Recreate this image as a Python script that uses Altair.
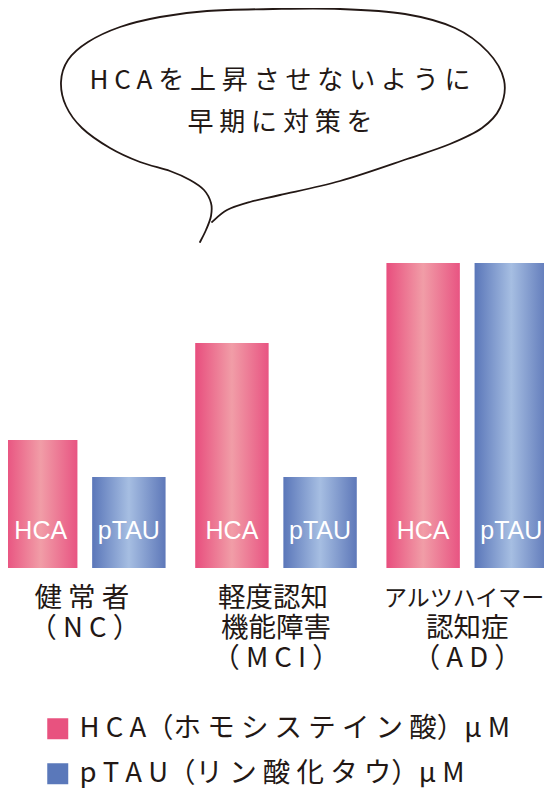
import altair as alt
import pandas as pd

# ---- data ----
groups = ["NC", "MCI", "AD"]
series = ["HCA", "pTAU"]
hca_values = [128, 225, 305]
ptau_values = [91, 91, 305]
label_line1 = ["健 常 者", "軽度認知", "アルツハイマー"]
label_line2 = ["（ N C ）", "機能障害", "認知症"]
label_line3 = ["", "（ M C I ）", "（ A D ）"]
label_size1 = [27.5, 27.5, 23]
label_size2 = [27.5, 27.5, 27.5]
label_size3 = [27.5, 27.5, 27.5]
legend_labels = ["H C A（ホ モ シ ス テ イ ン 酸）μ M", "p T A U（リ ン 酸 化 タ ウ）μ M"]
legend_colors = ["#E8527F", "#5A78BA"]
bubble_lines = ["H C A を 上 昇 さ せ な い よ う に", "早 期 に 対 策 を"]

INK = "#231815"
JP = "Noto Sans CJK JP"
W, H = 536, 560

rows = []
for g, h, p in zip(groups, hca_values, ptau_values):
    rows.append({"group": g, "series": "HCA", "value": h})
    rows.append({"group": g, "series": "pTAU", "value": p})
bars_df = pd.DataFrame(rows)

lab_rows = []
for i, (texts, sizes) in enumerate([(label_line1, label_size1),
                                    (label_line2, label_size2),
                                    (label_line3, label_size3)]):
    for g, t, s in zip(groups, texts, sizes):
        if t:
            lab_rows.append({"group": g, "line": i, "text": t, "fs": s})
labels_df = pd.DataFrame(lab_rows)
legend_df = pd.DataFrame({"item": legend_labels})

# ---- speech-bubble outline (decoration), smooth path through guide points ----
guide = [(200, 242), (206, 230), (211, 216), (211, 203), (204, 190), (190, 180),
         (170, 171), (140, 162), (110, 148), (82, 128), (66, 106), (61, 82),
         (68, 60), (88, 42), (120, 27), (160, 17), (207, 11), (273, 9), (340, 9),
         (405, 14), (455, 28), (488, 52), (504, 80), (500, 108), (482, 128),
         (450, 144), (407, 159), (340, 181), (280, 195), (250, 202), (227, 210),
         (212, 222)]
ax, ay = 272, 112
pts = [((x - 8) - ax, (y - 8) - ay) for x, y in guide]


def smooth_path(p):
    f = lambda v: f"{v:.1f}"
    d = f"M{f(p[0][0])},{f(p[0][1])}"
    n = len(p)
    for i in range(n - 1):
        p0 = p[i - 1] if i > 0 else p[i]
        p1, p2 = p[i], p[i + 1]
        p3 = p[i + 2] if i + 2 < n else p[i + 1]
        c1 = (p1[0] + (p2[0] - p0[0]) / 6, p1[1] + (p2[1] - p0[1]) / 6)
        c2 = (p2[0] - (p3[0] - p1[0]) / 6, p2[1] - (p3[1] - p1[1]) / 6)
        d += f" C{f(c1[0])},{f(c1[1])} {f(c2[0])},{f(c2[1])} {f(p2[0])},{f(p2[1])}"
    return d


bubble_path = smooth_path(pts)

# ---- scales ----
xs = alt.X("group:N", scale=alt.Scale(domain=groups, range=[-4, 540],
                                      paddingInner=0.155, paddingOuter=0), axis=None)
xo = alt.XOffset("series:N", scale=alt.Scale(domain=series, paddingInner=0.167,
                                             paddingOuter=0))
ys = alt.Y("value:Q", scale=alt.Scale(domain=[0, 560]), axis=None)


def grad(edge, mid, edge2):
    return alt.LinearGradient(
        gradient="linear", x1=0, x2=1, y1=0, y2=0,
        stops=[alt.GradientStop(color=edge, offset=0),
               alt.GradientStop(color=mid, offset=0.5),
               alt.GradientStop(color=edge2, offset=1)])


base = alt.Chart(bars_df)
bars_hca = base.transform_filter(alt.datum.series == "HCA").mark_bar(
    color=grad("#E84E7E", "#F19DA7", "#E85482")).encode(x=xs, xOffset=xo, y=ys)
bars_ptau = base.transform_filter(alt.datum.series == "pTAU").mark_bar(
    color=grad("#5A76B9", "#A6BEE2", "#5E78B9")).encode(x=xs, xOffset=xo, y=ys)

bar_text = base.mark_text(font="Liberation Sans", fontSize=25, color="white",
                          baseline="alphabetic", align="center").encode(
    x=xs, xOffset=xo, y=alt.value(531), text="series:N")

label_layers = []
for i, yy in enumerate([591, 621, 651]):
    label_layers.append(
        alt.Chart(labels_df).transform_filter(alt.datum.line == i).mark_text(
            font=JP, color=INK, baseline="middle", align="center",
            dx=-3 if i == 0 else 0).encode(
            x=xs, y=alt.value(yy), text="text:N",
            size=alt.Size("fs:Q", scale=None, legend=None)))

bubble = alt.Chart(pd.DataFrame({"k": [0]})).mark_point(
    shape=bubble_path, size=4, filled=False, stroke=INK, strokeWidth=1.8,
    opacity=1, strokeCap="round", strokeJoin="round").encode(
    x=alt.value(ax), y=alt.value(ay))

bubble_layers = []
for t, yy in zip(bubble_lines, [73, 115]):
    bubble_layers.append(
        alt.Chart(pd.DataFrame({"t": [t]})).mark_text(
            font=JP, fontSize=26, color=INK, baseline="middle", align="center").encode(
            x=alt.value(272), y=alt.value(yy), text="t:N"))

legend_layer = alt.Chart(legend_df).transform_filter("false").mark_square(
    opacity=1, filled=True).encode(
    color=alt.Color("item:N", scale=alt.Scale(domain=legend_labels, range=legend_colors),
                    legend=alt.Legend(orient="none", legendX=36, legendY=707,
                                      direction="vertical", title=None,
                                      symbolType="square", symbolSize=441,
                                      symbolStrokeWidth=0, labelFont=JP,
                                      labelFontSize=27.5, labelColor=INK,
                                      labelLimit=1000, rowPadding=16,
                                      labelOffset=8, padding=0)))

chart = alt.layer(bars_hca, bars_ptau, bar_text, *label_layers, bubble,
                  *bubble_layers, legend_layer).properties(
    width=W, height=H,
    autosize=alt.AutoSizeParams(type="none"),
    padding={"left": 0, "top": 0, "right": 0, "bottom": 222},
).configure_view(strokeWidth=0)

chart.save("out.html", embed_options={"renderer": "svg", "actions": False})
